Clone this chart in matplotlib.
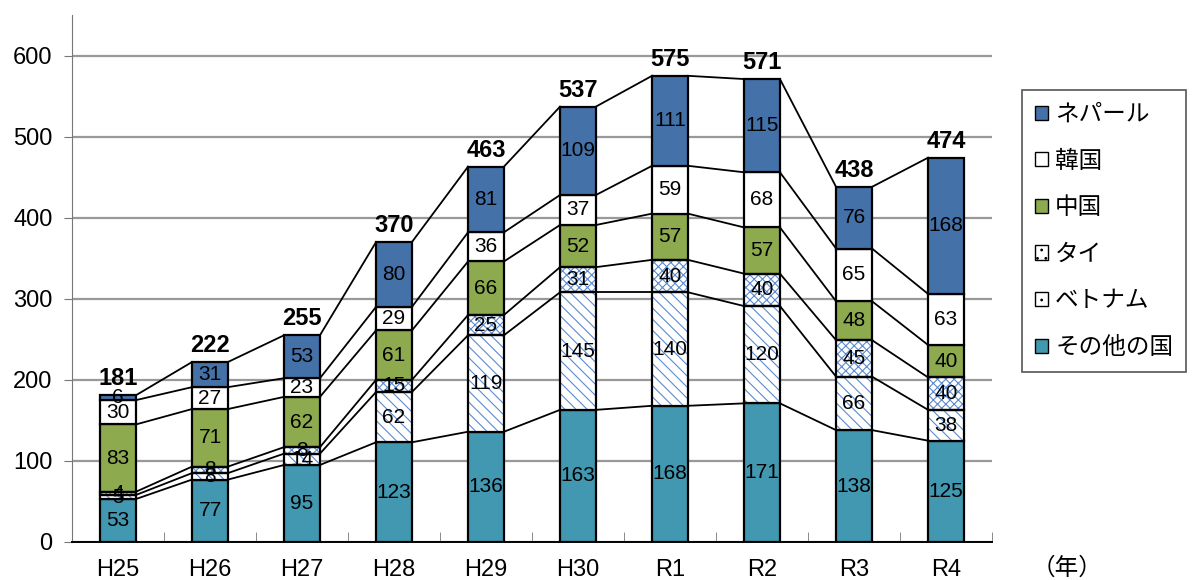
import matplotlib.pyplot as plt
import numpy as np
from matplotlib.patches import Patch

plt.rcParams['font.family'] = ['Liberation Sans', 'Noto Sans CJK JP', 'DejaVu Sans']
plt.rcParams['hatch.linewidth'] = 0.8

years = ["H25", "H26", "H27", "H28", "H29", "H30", "R1", "R2", "R3", "R4"]
# stacked bottom -> top
other = [53, 77, 95, 123, 136, 163, 168, 171, 138, 125]
vietnam = [5, 8, 14, 62, 119, 145, 140, 120, 66, 38]
thai = [4, 8, 8, 15, 25, 31, 40, 40, 45, 40]
china = [83, 71, 62, 61, 66, 52, 57, 57, 48, 40]
korea = [30, 27, 23, 29, 36, 37, 59, 68, 65, 63]
nepal = [6, 31, 53, 80, 81, 109, 111, 115, 76, 168]

series = [
    ("その他の国", other, "#4298b0", None),
    ("ベトナム", vietnam, "white", "\\\\\\"),
    ("タイ", thai, "white", "xxxx"),
    ("中国", china, "#8eaa4f", None),
    ("韓国", korea, "white", None),
    ("ネパール", nepal, "#4571a9", None),
]

fig = plt.figure(figsize=(11.94, 5.80), dpi=100)
ax = fig.add_axes([72 / 1194, 38 / 580, 920 / 1194, 527 / 580])

x = np.arange(len(years))
w = 0.39
bottom = np.zeros(len(years))
tops = []
for name, vals, color, hatch in series:
    vals = np.array(vals, dtype=float)
    if hatch:
        ax.bar(x, vals, w, bottom=bottom, color="white", edgecolor="#5b8bd0",
               hatch=hatch, linewidth=0, zorder=3)
        ax.bar(x, vals, w, bottom=bottom, fill=False, edgecolor="black",
               linewidth=1.6, zorder=4)
    else:
        ax.bar(x, vals, w, bottom=bottom, color=color, edgecolor="black",
               linewidth=1.6, zorder=3)
    for xi, b, v in zip(x, bottom, vals):
        ax.text(xi, b + v / 2, f"{int(v)}", ha="center", va="center",
                fontsize=15, color="black", zorder=6)
    bottom = bottom + vals
    tops.append(bottom.copy())

# series lines between bars
for t in tops:
    for i in range(len(years) - 1):
        ax.plot([x[i] + w / 2, x[i + 1] - w / 2], [t[i], t[i + 1]],
                color="black", linewidth=1.3, zorder=2)

# totals
for xi, tot in zip(x, bottom):
    ax.text(xi, tot + 6, f"{int(tot)}", ha="center", va="bottom",
            fontsize=17, fontweight="bold", zorder=6)

ax.set_xlim(-0.5, len(years) - 0.5)
ax.set_ylim(0, 650)
ax.set_yticks(range(0, 700, 100))
ax.yaxis.grid(True, color="#999999", linewidth=1.6, zorder=0)
ax.set_axisbelow(True)
ax.tick_params(axis="y", length=6, color="#777777", labelsize=17, pad=8)
ax.set_xticks(x)
ax.set_xticklabels(years, fontsize=17)
ax.tick_params(axis="x", length=0, pad=12)
ax.set_xticks(np.arange(-0.5, len(years), 1), minor=True)
ax.tick_params(axis="x", which="minor", direction="in", length=7, color="#777777")
for s in ["top", "right"]:
    ax.spines[s].set_visible(False)
ax.spines["left"].set_color("#777777")
ax.spines["bottom"].set_color("black")
ax.spines["bottom"].set_linewidth(1.4)

fig.text(1032 / 1194, 1 - 568 / 580, "（年）", fontsize=17, va="center",
         family=["Noto Sans CJK JP", "DejaVu Sans"])

handles = []
for name, vals, color, hatch in reversed(series):
    if hatch:
        handles.append(Patch(facecolor="white", edgecolor="black", hatch="..", label=name))
    else:
        handles.append(Patch(facecolor=color, edgecolor="black", label=name))
leg = fig.legend(handles=handles, loc="upper left",
                 bbox_to_anchor=(1022 / 1194, 1 - 90 / 580),
                 prop={"family": ["Noto Sans CJK JP", "DejaVu Sans"], "size": 17},
                 handlelength=0.55, handleheight=0.55, handletextpad=0.3,
                 labelspacing=1.0, borderpad=0.55, fancybox=False,
                 edgecolor="#555555", framealpha=1, borderaxespad=0)
leg.get_frame().set_linewidth(1.2)

fig.savefig("out.png", dpi=100)
